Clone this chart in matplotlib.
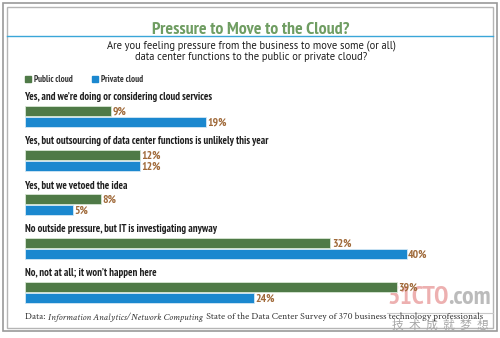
import numpy as np
import matplotlib
matplotlib.use("Agg")
import matplotlib.pyplot as plt
from matplotlib.patches import Rectangle

# survey answers and shares (%)
questions = [
    "Yes, and we\u2019re doing or considering cloud services",
    "Yes, but outsourcing of data center functions is unlikely this year",
    "Yes, but we vetoed the idea",
    "No outside pressure, but IT is investigating anyway",
    "No, not at all; it won\u2019t happen here",
]
public_cloud = [9, 12, 8, 32, 39]
private_cloud = [19, 12, 5, 40, 24]
series_names = ["Public cloud", "Private cloud"]

GREEN = "#4f7a47"
BLUE = "#1b88cf"
BROWN = "#a06a3a"
NARROW = ["PT Sans Narrow", "Fira Sans Condensed", "Roboto Condensed",
          "Liberation Sans Narrow", "DejaVu Sans"]
SANS = ["PT Sans", "Open Sans", "DejaVu Sans"]
SERIF = ["Crimson Text", "Crimson Pro", "Liberation Serif", "DejaVu Serif"]
W, H = 500, 338

fig = plt.figure(figsize=(W / 100, H / 100), dpi=100)
fig.patch.set_facecolor("white")
renderer = fig.canvas.get_renderer()

# background axes in pixel units for frame and captions
bg = fig.add_axes([0, 0, 1, 1])
bg.set_xlim(0, W)
bg.set_ylim(H, 0)
bg.axis("off")

# double frame
bg.add_patch(Rectangle((2.5, 2.5), 494, 328, fill=False, ec="#9a9a9a", lw=1.2))
bg.add_patch(Rectangle((7, 7), 486, 321, fill=False, ec="#b5b5b5", lw=1.0))

# title with rule
bg.plot([7, 493], [35.5, 35.5], color="#3aa6d8", lw=1.0)
bg.text(251, 34.5, "Pressure to Move to the Cloud?", ha="center", va="baseline",
        fontsize=12.8, fontweight="bold", color="#6f9d62", family=NARROW)
bg.text(251, 46, "Are you feeling pressure from the business to move some (or all)",
        ha="center", va="center", fontsize=7.6, color="#1e1e1e", family=SANS)
bg.text(251, 57.5, "data center functions to the public or private cloud?",
        ha="center", va="center", fontsize=7.6, color="#1e1e1e", family=SANS)

# legend
for x0, name, col in [(25, series_names[0], GREEN), (92, series_names[1], BLUE)]:
    bg.add_patch(Rectangle((x0, 76), 6, 6, color=col))
    bg.text(x0 + 9, 79, name, ha="left", va="center", fontsize=6.5,
            fontweight="bold", color="#333333", family=NARROW)

# bars: x axis in percent, y in pixels
ax = fig.add_axes([25 / W, 0, 458 / W, 1])
ax.set_xlim(0, 48)
ax.set_ylim(H, 0)
ax.axis("off")

group_step = 44
idx = np.arange(len(questions))
y_label = 97.5 + group_step * idx
y_pub = 110.5 + group_step * idx
y_priv = 122 + group_step * idx

ax.barh(y_pub, public_cloud, height=10, left=0, color=GREEN,
        edgecolor="#d8e6d4", linewidth=0.6)
ax.barh(y_priv, private_cloud, height=10, left=0, color=BLUE,
        edgecolor="#d3e8f5", linewidth=0.6)

for yl, q in zip(y_label, questions):
    ax.text(0, yl, q, ha="left", va="center", fontsize=7.7, fontweight="bold",
            color="#1e1e1e", family=NARROW)
for ys, vals in [(y_pub, public_cloud), (y_priv, private_cloud)]:
    for y, v in zip(ys, vals):
        ax.text(v + 0.15, y + 1, f"{v}%", ha="left", va="center", fontsize=8.4,
                fontweight="bold", color=BROWN, family=NARROW)

# watermark
wm = bg.text(387, 298, "51CTO", ha="left", va="center", fontsize=18.5,
             fontweight="bold", color="#eaa3a3", family=NARROW, alpha=0.85)
wx = 387 + wm.get_window_extent(renderer=renderer).width
bg.text(wx, 298, ".com", ha="left", va="center", fontsize=18.5, fontweight="bold",
        color="#b0b0b0", family=NARROW, alpha=0.85)
bg.plot([387, 493], [312.5, 312.5], color="#c8c8c8", lw=0.8)
bg.text(440, 325.5, "\u6280  \u672f  \u6210  \u5c31  \u68a6  \u60f3", ha="center",
        va="center", fontsize=8.5, color="#a8a8a8",
        family=["Noto Sans CJK SC", "DejaVu Sans"])

# source note, laid out piece by piece
src = [("Data: ", "normal"), ("Information Analytics/Network Computing", "italic"),
       ("  State of the Data Center Survey of 370 business technology professionals", "normal")]
x = 25
for txt, style in src:
    t = bg.text(x, 317, txt, ha="left", va="center", fontsize=7.0, color="#333333",
                style=style, family=SERIF)
    x += t.get_window_extent(renderer=renderer).width

fig.savefig("out.png", dpi=100, facecolor="white")
